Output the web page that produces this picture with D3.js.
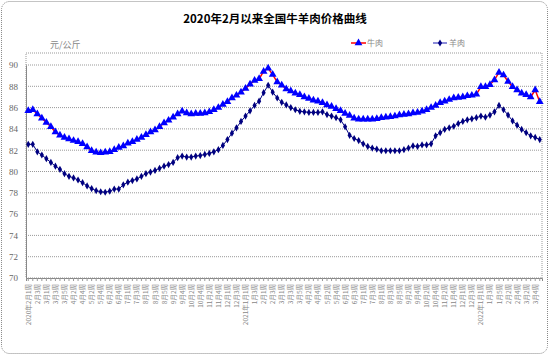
<!DOCTYPE html>
<html><head><meta charset="utf-8">
<script src="https://cdn.jsdelivr.net/npm/d3@7"></script>
<style>html,body{margin:0;padding:0;background:#fff;}svg{display:block;}</style>
</head><body>
<svg id="c" width="550" height="357"></svg>
<script>
const title = "2020年2月以来全国牛羊肉价格曲线";
const unitLabel = "元/公斤";
const seriesNames = ["牛肉", "羊肉"];
const yTicks = [70,72,74,76,78,80,82,84,86,88,90];
const tickLabels = ["2020年2月1周","2月3周","3月1周","3月3周","3月5周","4月2周","4月4周","5月2周","5月4周","6月2周","6月4周","7月1周","7月3周","8月1周","8月3周","8月5周","9月2周","9月4周","10月2周","10月4周","11月2周","11月4周","12月1周","12月3周","2021年1月1周","1月3周","2月1周","2月3周","3月1周","3月3周","3月5周","4月2周","4月4周","5月2周","5月4周","6月1周","6月3周","7月1周","7月3周","8月1周","8月3周","8月5周","9月2周","9月4周","10月2周","10月4周","11月2周","11月4周","12月1周","12月3周","2022年1月1周","1月3周","1月5周","2月2周","2月4周","3月2周","3月4周"];
const beef = [85.7,85.8,85.4,85.0,84.6,84.2,83.7,83.4,83.2,83.05,82.9,82.8,82.6,82.3,81.95,81.8,81.75,81.8,81.85,82.05,82.25,82.4,82.65,82.8,83.0,83.2,83.45,83.7,83.9,84.2,84.55,84.8,85.1,85.4,85.65,85.5,85.4,85.45,85.45,85.5,85.6,85.8,86.0,86.3,86.55,86.9,87.15,87.45,87.8,88.2,88.55,88.7,89.4,89.7,89.1,88.4,88.1,87.75,87.55,87.35,87.2,87.0,86.85,86.7,86.6,86.45,86.25,86.1,85.9,85.7,85.45,85.25,85.0,84.9,84.9,84.9,84.9,84.95,85.05,85.1,85.15,85.2,85.3,85.35,85.4,85.5,85.55,85.65,85.8,86.0,86.2,86.45,86.6,86.75,86.9,86.95,87.0,87.1,87.15,87.25,87.95,87.95,88.15,88.6,89.3,89.05,88.45,87.95,87.65,87.35,87.2,87.0,87.65,86.55];
const lamb = [82.55,82.55,81.85,81.55,81.2,80.85,80.5,80.2,79.8,79.55,79.4,79.2,78.95,78.65,78.4,78.2,78.1,78.05,78.15,78.35,78.35,78.75,79.0,79.15,79.3,79.55,79.8,79.95,80.1,80.3,80.5,80.65,80.85,81.3,81.45,81.35,81.35,81.45,81.5,81.6,81.7,81.85,82.05,82.45,83.0,83.6,84.1,84.7,85.2,85.7,86.2,86.6,87.4,88.1,87.45,86.9,86.5,86.25,86.0,85.8,85.65,85.6,85.55,85.55,85.55,85.6,85.35,85.2,85.05,84.85,84.2,83.4,83.1,82.9,82.6,82.35,82.2,82.1,81.95,81.95,81.95,81.95,81.95,82.05,82.2,82.4,82.35,82.5,82.5,82.6,83.35,83.65,83.95,84.1,84.25,84.5,84.7,84.85,84.95,85.05,85.2,85.1,85.3,85.6,86.2,85.8,85.3,84.75,84.35,83.95,83.65,83.35,83.2,83.0];

const svg = d3.select("#c");
const L = 26, R = 542, T = 53, B = 278;
const grey = "#999";

svg.append("rect").attr("x",1.5).attr("y",1.5).attr("width",546).attr("height",352)
  .attr("rx",8).attr("fill","#fff").attr("stroke","#888").attr("stroke-dasharray","1,1");

svg.append("text").attr("x",275).attr("y",23).attr("text-anchor","middle")
  .attr("font-family","'Noto Sans CJK SC', sans-serif").attr("font-weight","bold")
  .attr("font-size",11.5).attr("fill","#000").text(title);

const idx = d3.range(beef.length);
const x = d3.scaleBand().domain(idx).range([L, R]);
const y = d3.scaleLinear().domain([70, 90]).range([B, 65]);

svg.append("rect").attr("x",L).attr("y",T).attr("width",R-L).attr("height",B-T)
  .attr("fill","none").attr("stroke",grey).attr("stroke-dasharray","1,1");

svg.append("g").selectAll("line").data(yTicks.filter(v=>v>70)).join("line")
  .attr("x1",L).attr("x2",R).attr("y1",d=>y(d)).attr("y2",d=>y(d))
  .attr("stroke",grey).attr("stroke-dasharray","1,1");

const yAxis = svg.append("g").attr("transform",`translate(${L},0)`)
  .call(d3.axisLeft(y).tickValues(yTicks).tickSize(0).tickFormat(d3.format("d")));
yAxis.select(".domain").attr("stroke","#888");
yAxis.selectAll("text").attr("font-family","'Liberation Serif', serif").attr("font-size",9).attr("fill","#666").attr("x",-8);

const xAxis = svg.append("g").attr("transform",`translate(0,${B})`)
  .call(d3.axisBottom(x).tickValues(idx).tickSize(3).tickFormat(""));
xAxis.select(".domain").attr("stroke","#888");
xAxis.selectAll(".tick line").attr("stroke","#999");

svg.append("g").selectAll("text").data(tickLabels).join("text")
  .attr("transform",(d,i)=>`translate(${x(i*2)+x.bandwidth()/2+2.5},284) rotate(-90)`)
  .attr("text-anchor","end").attr("font-family","'Noto Sans CJK SC', sans-serif")
  .attr("font-size",6.5).attr("fill","#888").text(d=>d);

svg.append("text").attr("x",50).attr("y",48).attr("font-family","'Noto Sans CJK SC', serif")
  .attr("font-size",9).attr("fill","#888").text(unitLabel);

const cx = i => x(i) + x.bandwidth()/2;

svg.append("path").datum(beef).attr("fill","none").attr("stroke","#ff0000").attr("stroke-width",1.5)
  .attr("d", d3.line().x((d,i)=>cx(i)).y(d=>y(d)));
svg.append("path").datum(lamb).attr("fill","none").attr("stroke","#000080").attr("stroke-width",1)
  .attr("d", d3.line().x((d,i)=>cx(i)).y(d=>y(d)));

const tri = d3.symbol().type(d3.symbolTriangle).size(26);
const dia = d3.symbol().type(d3.symbolDiamond).size(15);
svg.append("g").selectAll("path").data(beef).join("path")
  .attr("transform",(d,i)=>`translate(${cx(i)},${y(d)})`).attr("d",tri).attr("fill","#0000ff");
svg.append("g").selectAll("path").data(lamb).join("path")
  .attr("transform",(d,i)=>`translate(${cx(i)},${y(d)})`).attr("d",dia).attr("fill","#000080");

const lg = svg.append("g");
lg.append("line").attr("x1",351).attr("x2",366).attr("y1",43).attr("y2",43).attr("stroke","#ff0000").attr("stroke-width",1.5);
lg.append("path").attr("transform","translate(358.5,43)").attr("d",tri).attr("fill","#0000ff");
lg.append("text").attr("x",367).attr("y",46).attr("font-family","'Noto Sans CJK SC', sans-serif").attr("font-size",8).attr("fill","#888").text(seriesNames[0]);
lg.append("line").attr("x1",433).attr("x2",447).attr("y1",43).attr("y2",43).attr("stroke","#6666cc").attr("stroke-width",1.5);
lg.append("path").attr("transform","translate(440,43)").attr("d",dia).attr("fill","#000080");
lg.append("text").attr("x",449).attr("y",46).attr("font-family","'Noto Sans CJK SC', sans-serif").attr("font-size",8).attr("fill","#888").text(seriesNames[1]);
</script>
</body></html>
